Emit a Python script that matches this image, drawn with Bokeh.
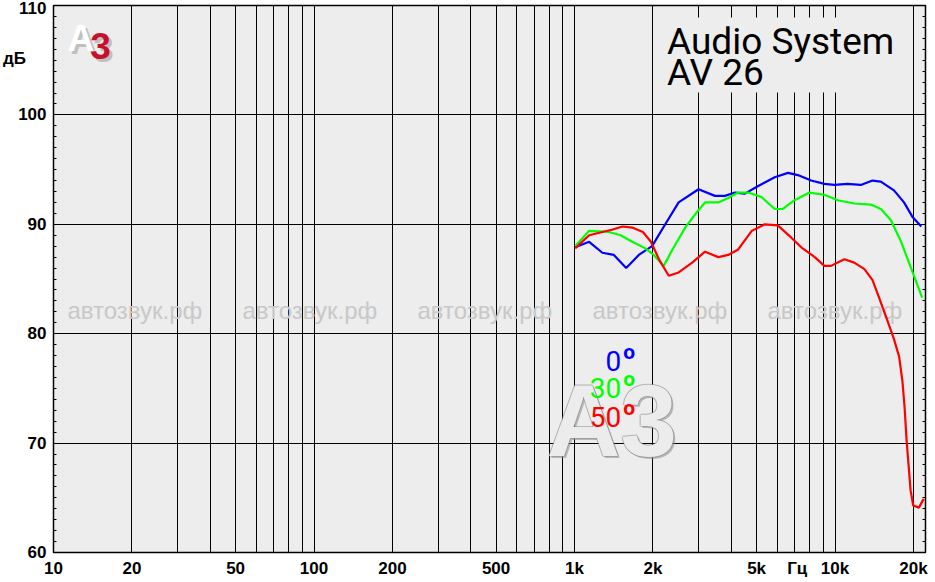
import math
from bokeh.plotting import figure
from bokeh.models import Range1d, FixedTicker, LinearAxis, Label, BoxAnnotation
from bokeh.embed import file_html
from bokeh.resources import INLINE

# ---------------- data ----------------
freq_0 = [1006, 1138, 1279, 1416, 1579, 1765, 1985, 2230, 2510, 2993, 3460, 3780, 4130, 4510,
          5070, 5870, 6600, 7200, 8100, 9100, 9940, 11160, 12560, 13930, 14990, 16840, 18400,
          19800, 21430]
spl_0 = [87.9, 88.4, 87.4, 87.2, 86.0, 87.2, 88.0, 90.0, 92.0, 93.2, 92.6, 92.6, 92.9, 92.8,
         93.5, 94.3, 94.7, 94.5, 94.0, 93.7, 93.6, 93.7, 93.6, 94.0, 93.9, 93.1, 92.0,
         90.7, 89.8]

freq_30 = [1006, 1138, 1356, 1503, 1665, 1872, 2014, 2200, 2365, 2660, 2946, 3170, 3565, 3890,
           4250, 4645, 5220, 5870, 6310, 6990, 7980, 9100, 10240, 11850, 13710, 14990, 16370,
           17860, 19500, 21600]
spl_30 = [88.0, 89.4, 89.3, 89.0, 88.4, 87.8, 87.2, 86.2, 87.6, 89.7, 91.1, 92.0, 92.0, 92.4,
          92.9, 92.9, 92.5, 91.4, 91.4, 92.2, 92.9, 92.7, 92.2, 91.9, 91.8, 91.4, 90.4,
          88.5, 86.1, 83.3]

freq_50 = [1006, 1138, 1279, 1391, 1530, 1665, 1830, 1965, 2120, 2300, 2510, 2830, 3170, 3565,
           3890, 4250, 4790, 5370, 6030, 6780, 7420, 8360, 9100, 9650, 10860, 11850, 12970,
           13930, 14760, 15890, 16840, 17620, 18140, 18490, 18830, 19230, 19500, 19960, 20980,
           21900]
spl_50 = [87.8, 89.0, 89.3, 89.5, 89.8, 89.7, 89.3, 88.4, 86.7, 85.3, 85.6, 86.5, 87.5, 87.0,
          87.2, 87.7, 89.4, 90.0, 89.9, 88.8, 87.9, 87.0, 86.2, 86.2, 86.8, 86.5, 85.9,
          84.9, 83.3, 81.2, 79.5, 77.9, 75.7, 73.3, 70.2, 67.5, 65.7, 64.3, 64.1, 64.9]

x_ticks = [10, 20, 50, 100, 200, 500, 1000, 2000, 5000, 10000, 20000]
x_tick_labels = ["10", "20", "50", "100", "200", "500", "1k", "2k", "5k", "10k", "20k"]
x_unit = "Гц"
x_grid = [m * 10 ** e for e in range(1, 5) for m in range(1, 10) if m * 10 ** e <= 20000]
y_ticks = [60, 70, 80, 90, 100, 110]
y_tick_labels = ["60", "70", "80", "90", "100", "110"]
y_unit = "дБ"
y_minor = list(range(60, 111))

series_labels = ["0", "30", "50"]
series_colors = ["#0000ff", "#00ff00", "#ff0000"]

# ---------------- layout helpers (page pixels -> data coords) ----------------
W, H = 935, 582
FL, FR, FT, FB = 48, 925, 5, 552
PX_PER_DEC = 262.0
X_END = 10 * 10 ** ((FR - FL) / PX_PER_DEC)


def fx(px):
    return 10 * 10 ** ((px - FL) / PX_PER_DEC)


def fy(py):
    return 110 - (py - FT) * 50.0 / (FB - FT)


p = figure(width=W, height=H, x_axis_type="log", output_backend="svg", toolbar_location=None,
           x_range=Range1d(10, X_END), y_range=Range1d(60, 110),
           min_border_left=FL, min_border_right=W - FR, min_border_top=FT,
           min_border_bottom=H - FB)
p.background_fill_color = "#ededed"
p.border_fill_color = "white"
p.outline_line_color = "black"
p.outline_line_width = 1.5

# grid
p.xgrid.ticker = FixedTicker(ticks=x_grid)
p.ygrid.ticker = FixedTicker(ticks=y_ticks)
for g in (p.xgrid, p.ygrid):
    g.grid_line_color = "black"
    g.grid_line_width = 1
    g.grid_line_alpha = 1

lab_font = "Liberation Sans"

# x axis (unit label placed as an extra labelled position)
x_unit_pos = round(fx(796), 0)
xa = p.xaxis[0]
xa.ticker = FixedTicker(ticks=x_ticks + [x_unit_pos], minor_ticks=[])
ovr = {t: l for t, l in zip(x_ticks, x_tick_labels)}
ovr[x_unit_pos] = x_unit
xa.major_label_overrides = ovr
xa.major_tick_in = 0
xa.major_tick_out = 0
xa.minor_tick_in = 0
xa.minor_tick_out = 0
xa.axis_line_color = "black"
xa.major_label_text_font = lab_font
xa.major_label_text_font_style = "bold"
xa.major_label_text_font_size = "17px"
xa.major_label_text_color = "black"
xa.major_label_standoff = 6

# y axis: label positions (top one nudged down so it stays inside the page)
y_label_pos = [60, 70, 80, 90, 100, 109.75]
y_unit_pos = round(fy(58), 2)
ya = p.yaxis[0]
ya.ticker = FixedTicker(ticks=y_label_pos + [y_unit_pos], minor_ticks=y_minor)
yovr = {t: l for t, l in zip(y_label_pos, y_tick_labels)}
yovr[y_unit_pos] = y_unit + "\u2003\u2009"
ya.major_label_overrides = yovr
ya.major_tick_in = 0
ya.major_tick_out = 0
ya.minor_tick_in = 3
ya.minor_tick_out = 0
ya.minor_tick_line_color = "black"
ya.axis_line_color = "black"
ya.major_label_text_font = lab_font
ya.major_label_text_font_style = "bold"
ya.major_label_text_font_size = "17px"
ya.major_label_text_color = "black"
ya.major_label_standoff = 7

ra = LinearAxis(ticker=FixedTicker(ticks=[], minor_ticks=y_minor))
ra.major_tick_in = 0
ra.major_tick_out = 0
ra.minor_tick_in = 3
ra.minor_tick_out = 0
ra.minor_tick_line_color = "black"
ra.axis_line_color = "black"
ra.major_label_standoff = 0
p.add_layout(ra, "right")

# watermark texts
for px0 in [62, 238, 414, 590, 766]:
    p.add_layout(Label(x=fx(px0), y=fy(310), text="автозвук.рф", text_font=lab_font,
                       text_font_size="24px", text_color="#c8c8c8", text_baseline="middle",
                       level="underlay"))

# big A3 watermark (bottom-baseline positions, tuned to the reference)
for dx, dy in [(-1, 0), (1, 0), (0, -1), (0, 1), (2, -2)]:
    p.add_layout(Label(x=fx(544), y=fy(477), x_offset=dx, y_offset=dy, text="A3",
                       text_font=lab_font, text_font_style="bold", text_font_size="102px",
                       text_color="#8a8a8a", text_alpha=0.55, level="underlay"))
p.add_layout(Label(x=fx(544), y=fy(477), text="A3", text_font=lab_font, text_font_style="bold",
                   text_font_size="102px", text_color="#f6f6f6", text_alpha=0.9,
                   level="underlay"))

# curves
for fr, sp, c in zip([freq_0, freq_30, freq_50], [spl_0, spl_30, spl_50], series_colors):
    p.line(fr, sp, line_color=c, line_width=2.2)

# title box
p.add_layout(BoxAnnotation(left=fx(660), right=fx(900), top=fy(17), bottom=fy(92),
                           fill_color="#ededed", fill_alpha=1, line_color=None))
p.add_layout(Label(x=fx(665), y=fy(62), text="Audio System", text_font="Roboto",
                   text_font_size="37px", text_color="black"))
p.add_layout(Label(x=fx(665), y=fy(93), text="AV 26", text_font="Roboto",
                   text_font_size="37px", text_color="black"))

# legend
for lbl, c, base in zip(series_labels, series_colors, [370, 397, 426]):
    p.add_layout(Label(x=fx(619), y=fy(base), text=lbl, text_font="Roboto",
                       text_font_size="28px", text_color=c, text_align="right"))
    p.add_layout(Label(x=fx(621), y=fy(base - 7), text="o", text_font="Roboto",
                       text_font_style="bold", text_font_size="21px", text_color=c))

# top-left logo
for t, px0, col in [("A", 62, "white"), ("3", 85, "#c8102e")]:
    p.add_layout(Label(x=fx(px0), y=fy(58), x_offset=3, y_offset=-3, text=t, text_font=lab_font,
                       text_font_style="bold", text_font_size="37px", text_color="#9a9a9a",
                       text_alpha=0.55))
for t, px0, col in [("A", 62, "white"), ("3", 85, "#c8102e")]:
    p.add_layout(Label(x=fx(px0), y=fy(58), text=t, text_font=lab_font,
                       text_font_style="bold", text_font_size="37px", text_color=col))

html = file_html(p, INLINE)
html = html.replace("<head>", "<head><style>html,body{margin:0;padding:0;overflow:hidden}</style>", 1)
open("out.html", "w").write(html)
